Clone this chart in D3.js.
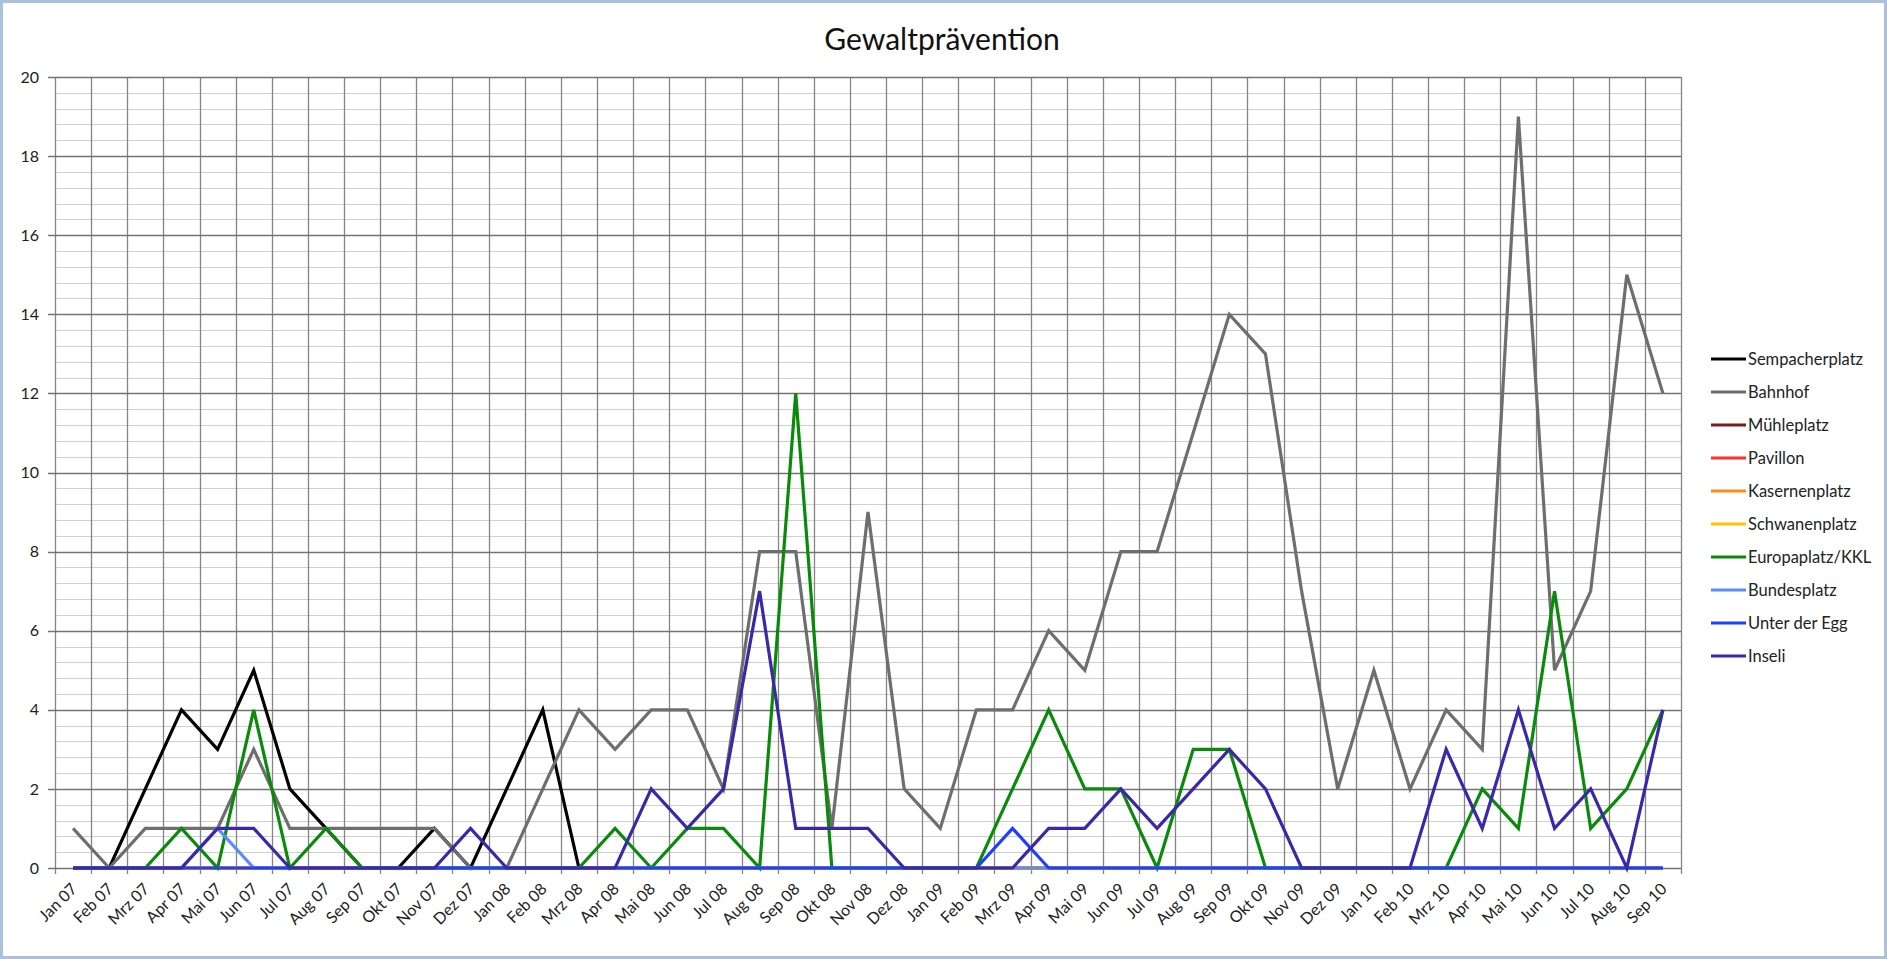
<!DOCTYPE html>
<meta charset="utf-8">
<html>
<head>
<style>
  body { margin: 0; background: #fff; }
  svg { display: block; font-family: Lato, "Open Sans", sans-serif; }
</style>
</head>
<body>
<svg width="1887" height="959" id="chart"></svg>
<script src="https://d3js.org/d3.v7.min.js"></script>
<script>
// months shown on the x axis
var months = ["Jan 07", "Feb 07", "Mrz 07", "Apr 07", "Mai 07", "Jun 07", "Jul 07", "Aug 07", "Sep 07", "Okt 07", "Nov 07", "Dez 07",
              "Jan 08", "Feb 08", "Mrz 08", "Apr 08", "Mai 08", "Jun 08", "Jul 08", "Aug 08", "Sep 08", "Okt 08", "Nov 08", "Dez 08",
              "Jan 09", "Feb 09", "Mrz 09", "Apr 09", "Mai 09", "Jun 09", "Jul 09", "Aug 09", "Sep 09", "Okt 09", "Nov 09", "Dez 09",
              "Jan 10", "Feb 10", "Mrz 10", "Apr 10", "Mai 10", "Jun 10", "Jul 10", "Aug 10", "Sep 10"];

var yTicks = [0, 2, 4, 6, 8, 10, 12, 14, 16, 18, 20];

// one array per location
var sempacherplatz = [0, 0, 2, 4, 3, 5, 2, 1, 0, 0, 1, 0, 2, 4, 0, 0, 0, 0, 0, 0, 0, 0, 0, 0, 0, 0, 0, 0, 0, 0, 0, 0, 0, 0, 0, 0, 0, 0, 0, 0, 0, 0, 0, 0, 0];
var bahnhof        = [1, 0, 1, 1, 1, 3, 1, 1, 1, 1, 1, 0, 0, 2, 4, 3, 4, 4, 2, 8, 8, 1, 9, 2, 1, 4, 4, 6, 5, 8, 8, 11, 14, 13, 7, 2, 5, 2, 4, 3, 19, 5, 7, 15, 12];
var muehleplatz    = [0, 0, 0, 0, 0, 0, 0, 0, 0, 0, 0, 0, 0, 0, 0, 0, 0, 0, 0, 0, 0, 0, 0, 0, 0, 0, 0, 0, 0, 0, 0, 0, 0, 0, 0, 0, 0, 0, 0, 0, 0, 0, 0, 0, 0];
var pavillon       = [0, 0, 0, 0, 0, 0, 0, 0, 0, 0, 0, 0, 0, 0, 0, 0, 0, 0, 0, 0, 0, 0, 0, 0, 0, 0, 0, 0, 0, 0, 0, 0, 0, 0, 0, 0, 0, 0, 0, 0, 0, 0, 0, 0, 0];
var kasernenplatz  = [0, 0, 0, 0, 0, 0, 0, 0, 0, 0, 0, 0, 0, 0, 0, 0, 0, 0, 0, 0, 0, 0, 0, 0, 0, 0, 0, 0, 0, 0, 0, 0, 0, 0, 0, 0, 0, 0, 0, 0, 0, 0, 0, 0, 0];
var schwanenplatz  = [0, 0, 0, 0, 0, 0, 0, 0, 0, 0, 0, 0, 0, 0, 0, 0, 0, 0, 0, 0, 0, 0, 0, 0, 0, 0, 0, 0, 0, 0, 0, 0, 0, 0, 0, 0, 0, 0, 0, 0, 0, 0, 0, 0, 0];
var europaplatz    = [0, 0, 0, 1, 0, 4, 0, 1, 0, 0, 0, 0, 0, 0, 0, 1, 0, 1, 1, 0, 12, 0, 0, 0, 0, 0, 2, 4, 2, 2, 0, 3, 3, 0, 0, 0, 0, 0, 0, 2, 1, 7, 1, 2, 4];
var bundesplatz    = [0, 0, 0, 0, 1, 0, 0, 0, 0, 0, 0, 0, 0, 0, 0, 0, 0, 0, 0, 0, 0, 0, 0, 0, 0, 0, 0, 0, 0, 0, 0, 0, 0, 0, 0, 0, 0, 0, 0, 0, 0, 0, 0, 0, 0];
var unterDerEgg    = [0, 0, 0, 0, 0, 0, 0, 0, 0, 0, 0, 0, 0, 0, 0, 0, 0, 0, 0, 0, 0, 0, 0, 0, 0, 0, 1, 0, 0, 0, 0, 0, 0, 0, 0, 0, 0, 0, 0, 0, 0, 0, 0, 0, 0];
var inseli         = [0, 0, 0, 0, 1, 1, 0, 0, 0, 0, 0, 1, 0, 0, 0, 0, 2, 1, 2, 7, 1, 1, 1, 0, 0, 0, 0, 1, 1, 2, 1, 2, 3, 2, 0, 0, 0, 0, 3, 1, 4, 1, 2, 0, 4];

var seriesNames = ["Sempacherplatz", "Bahnhof", "Mühleplatz", "Pavillon", "Kasernenplatz", "Schwanenplatz", "Europaplatz/KKL", "Bundesplatz", "Unter der Egg", "Inseli"];
var seriesValues = [sempacherplatz, bahnhof, muehleplatz, pavillon, kasernenplatz, schwanenplatz, europaplatz, bundesplatz, unterDerEgg, inseli];
var seriesColors = ["#000000", "#6e6e6e", "#7a1c1c", "#ff3030", "#ff8a1a", "#ffc400", "#0a8a0a", "#5a8cff", "#1f3fff", "#3a28a8"];

var svg = d3.select("svg"),
    margin = { top: 77, right: 206, bottom: 91, left: 55 },
    width = +svg.attr("width") - margin.left - margin.right,
    height = +svg.attr("height") - margin.top - margin.bottom;

// window-like frame around the picture
svg.append("rect")
    .attr("x", 1.5).attr("y", 1.5)
    .attr("width", 1884).attr("height", 956)
    .attr("fill", "#fff")
    .attr("stroke", "#a9c1dd")
    .attr("stroke-width", 3);

svg.append("text")
    .attr("x", 942)
    .attr("y", 50)
    .attr("text-anchor", "middle")
    .attr("font-size", 30)
    .attr("fill", "#111")
    .text("Gewaltprävention");

var x = d3.scaleBand().domain(months).range([0, width]).padding(0),
    y = d3.scaleLinear().domain([0, 20]).range([height, 0]);

var g = svg.append("g")
    .attr("transform", "translate(" + margin.left + "," + margin.top + ")");

// minor horizontal grid every 0.4
var minor = d3.range(0, 20.001, 0.4).filter(function (v) { return Math.abs(v / 2 - Math.round(v / 2)) > 0.01; });
g.selectAll(".minor")
    .data(minor)
    .enter().append("line")
    .attr("x1", 0).attr("x2", width)
    .attr("y1", function (d) { return Math.round(y(d)) + 0.5; })
    .attr("y2", function (d) { return Math.round(y(d)) + 0.5; })
    .attr("stroke", "#cfcfcf")
    .attr("stroke-width", 1);

// vertical grid at band edges
var edges = months.map(function (m) { return x(m); }).concat([width]);
g.selectAll(".vgrid")
    .data(edges)
    .enter().append("line")
    .attr("x1", function (d) { return Math.round(d) + 0.5; })
    .attr("x2", function (d) { return Math.round(d) + 0.5; })
    .attr("y1", 0).attr("y2", height + 6)
    .attr("stroke", "#858585")
    .attr("stroke-width", 1.3);

// major horizontal grid + y labels
g.selectAll(".major")
    .data(yTicks)
    .enter().append("line")
    .attr("x1", -7).attr("x2", width)
    .attr("y1", function (d) { return Math.round(y(d)) + 0.5; })
    .attr("y2", function (d) { return Math.round(y(d)) + 0.5; })
    .attr("stroke", "#737373")
    .attr("stroke-width", 1.4);

g.selectAll(".ylab")
    .data(yTicks)
    .enter().append("text")
    .attr("x", -16)
    .attr("y", function (d) { return y(d); })
    .attr("dy", "0.35em")
    .attr("text-anchor", "end")
    .attr("font-size", 16)
    .attr("fill", "#222")
    .text(function (d) { return d; });

// x labels, rotated
g.selectAll(".xlab")
    .data(months)
    .enter().append("text")
    .attr("text-anchor", "end")
    .attr("font-size", 16)
    .attr("fill", "#222")
    .attr("transform", function (d) {
        return "translate(" + (x(d) + x.bandwidth() / 2 + 5) + "," + (height + 22) + ") rotate(-45)";
    })
    .text(function (d) { return d; });

// lines
var line = d3.line()
    .x(function (d, i) { return x(months[i]) + x.bandwidth() / 2; })
    .y(function (d) { return y(d); });

seriesValues.forEach(function (vals, k) {
    g.append("path")
        .datum(vals)
        .attr("fill", "none")
        .attr("stroke", seriesColors[k])
        .attr("stroke-width", 3.2)
        .attr("stroke-linejoin", "miter")
        .attr("d", line);
});

// legend
var legend = svg.append("g").attr("transform", "translate(1711,359)");
var item = legend.selectAll(".item")
    .data(seriesNames)
    .enter().append("g")
    .attr("transform", function (d, i) { return "translate(0," + (i * 33) + ")"; });
item.append("line")
    .attr("x1", 0).attr("x2", 35)
    .attr("stroke", function (d, i) { return seriesColors[i]; })
    .attr("stroke-width", 3.2);
item.append("text")
    .attr("x", 37)
    .attr("dy", "0.35em")
    .attr("font-size", 16.5)
    .attr("fill", "#222")
    .text(function (d) { return d; });
</script>
</body>
</html>
